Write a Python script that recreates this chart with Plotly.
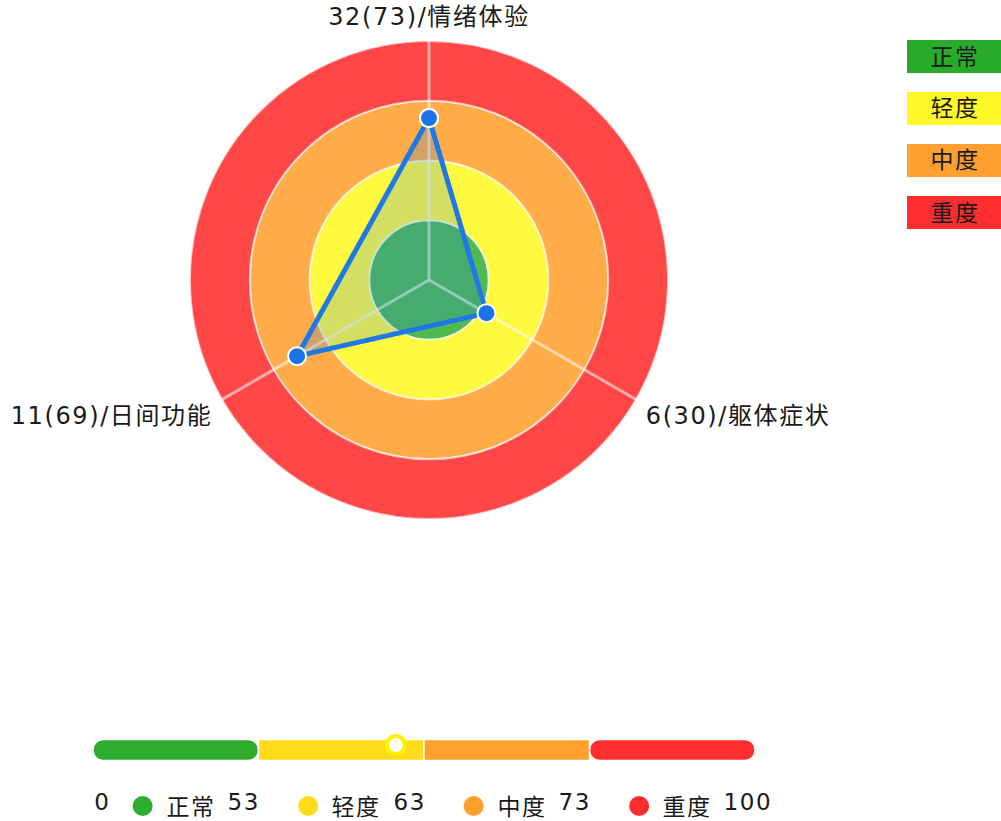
import numpy as np
import plotly.graph_objects as go

# ---- data ----
dimensions = ["情绪体验", "躯体症状", "日间功能"]
raw_scores = [32, 6, 11]
percentiles = [73, 30, 69]
radar_values = [2.71, 1.11, 2.55]          # position on the 4-band radar scale
band_names = ["正常", "轻度", "中度", "重度"]
band_colors = ["#2aaa2a", "#fff826", "#ffa030", "#ff2e2e"]
band_fill = ["rgba(42,170,42,0.82)", "rgba(255,248,38,0.88)",
             "rgba(255,160,48,0.88)", "rgba(255,46,46,0.88)"]
scale_colors = ["#2eac2e", "#ffdb1a", "#ffa02c", "#ff2e2e"]
thresholds = [0, 53, 63, 73, 100]
total_score = 61.3

FONT = "DejaVu Sans, Noto Sans CJK SC, sans-serif"
FS = 23
TXT = "#1a1a1a"
W, H = 1001, 821

labels = [f"{s}({p})/{d}" for s, p, d in zip(raw_scores, percentiles, dimensions)]
angles = [0, 120, 240]

fig = go.Figure()

# concentric severity bands
fig.add_trace(go.Barpolar(
    r=[1, 1, 1, 1], base=[0, 1, 2, 3], theta=[0, 0, 0, 0], width=[360] * 4,
    marker=dict(color=band_fill,
                line=dict(color="rgba(255,255,255,0.6)", width=2)),
    hoverinfo="skip", showlegend=False))

# spokes
sr, st = [], []
for a in angles:
    sr += [0, 4, None]
    st += [a, a, None]
fig.add_trace(go.Scatterpolar(
    r=sr, theta=st, mode="lines",
    line=dict(color="rgba(255,255,255,0.55)", width=3),
    hoverinfo="skip", showlegend=False))

# radar polygon
fig.add_trace(go.Scatterpolar(
    r=radar_values + radar_values[:1], theta=angles + angles[:1],
    mode="lines+markers", fill="toself",
    fillcolor="rgba(30,120,230,0.2)",
    line=dict(color="#1f78e6", width=5),
    marker=dict(size=18, color="#1a73e8", line=dict(color="white", width=2)),
    showlegend=False))

cx, cy, R = 429, 280, 239
fig.update_layout(
    polar=dict(
        domain=dict(x=[(cx - R) / W, (cx + R) / W], y=[(H - cy - R) / H, (H - cy + R) / H]),
        bgcolor="rgba(0,0,0,0)",
        radialaxis=dict(visible=False, range=[0, 4]),
        angularaxis=dict(rotation=90, direction="clockwise", tickmode="array",
                         tickvals=angles, ticktext=labels, showline=False,
                         showgrid=False, ticks="outside", ticklen=6,
                         tickcolor="rgba(0,0,0,0)",
                         tickfont=dict(size=24, color=TXT, family=FONT)),
    )
)

# ---- bottom scale bar ----
seg_pos = list(range(len(band_names)))
fig.add_trace(go.Bar(
    y=[71, 71], x=[-1, 1], base=[1, 3], orientation="h", width=21,
    marker=dict(color=[scale_colors[0], scale_colors[3]], cornerradius=10,
                line=dict(color="white", width=1.5)),
    xaxis="x", yaxis="y", hoverinfo="skip", showlegend=False))
fig.add_trace(go.Bar(
    y=[71, 71], x=[1, 1], base=[1, 2], orientation="h", width=21,
    marker=dict(color=[scale_colors[1], scale_colors[2]],
                line=dict(color="white", width=1.5)),
    xaxis="x", yaxis="y", hoverinfo="skip", showlegend=False))

score_pos = float(np.interp(total_score, thresholds, [0, 1, 2, 3, 4]))
fig.add_trace(go.Scatter(
    x=[score_pos], y=[76], mode="markers",
    marker=dict(size=18, color="white", line=dict(color="#fff200", width=4)),
    cliponaxis=False, hoverinfo="skip", showlegend=False))

fig.add_trace(go.Scatter(
    x=[p + 0.30 for p in seg_pos], y=[15] * 4, mode="markers",
    marker=dict(size=20, color=scale_colors),
    cliponaxis=False, hoverinfo="skip", showlegend=False))

annotations = [dict(x=0, y=19, xref="x", yref="y", text=str(thresholds[0]),
                    showarrow=False, xanchor="left", yanchor="middle",
                    font=dict(size=FS, color=TXT, family=FONT))]
for i, name in enumerate(band_names):
    annotations.append(dict(x=i + 0.44, y=14, xref="x", yref="y", text=name,
                            showarrow=False, xanchor="left", yanchor="middle",
                            font=dict(size=FS, color=TXT, family=FONT)))
    annotations.append(dict(x=i + 0.81, y=19.5, xref="x", yref="y", text=str(thresholds[i + 1]),
                            showarrow=False, xanchor="left", yanchor="middle",
                            font=dict(size=FS, color=TXT, family=FONT)))

# ---- right legend ----
shapes = []
for i, (name, col) in enumerate(zip(band_names, band_colors)):
    top = 40 + 52 * i
    shapes.append(dict(type="rect", xref="paper", yref="paper",
                       x0=907 / W, x1=1.0, y0=(H - top - 33) / H, y1=(H - top) / H,
                       fillcolor=col, line=dict(width=0), layer="above"))
    annotations.append(dict(x=955 / W, y=(H - top - 16.5) / H, xref="paper", yref="paper",
                            text=name, showarrow=False, xanchor="center", yanchor="middle",
                            font=dict(size=FS, color=TXT, family=FONT)))

fig.update_layout(
    width=W, height=H,
    margin=dict(l=0, r=0, t=0, b=0),
    paper_bgcolor="white", plot_bgcolor="rgba(0,0,0,0)",
    xaxis=dict(domain=[93 / W, 755 / W], range=[0, 4], visible=False, fixedrange=True),
    yaxis=dict(domain=[0, 0.2], range=[0, 0.2 * H], visible=False, fixedrange=True),
    barmode="overlay",
    shapes=shapes, annotations=annotations,
    font=dict(family=FONT),
)

post = (
    "document.body.style.margin='0';"
    "document.querySelectorAll('.main-svg text').forEach(function(t){t.style.letterSpacing='1.6px';});"
)
fig.write_html("out.html", post_script=post, config={"displayModeBar": False})
